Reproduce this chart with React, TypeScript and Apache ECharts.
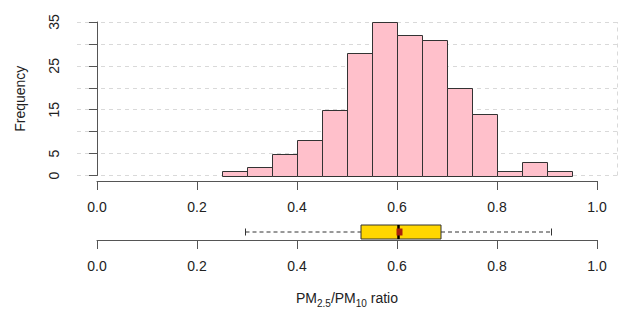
import React, { useEffect, useRef } from "react";
import * as echarts from "echarts";

// Histogram bins (PM2.5/PM10 ratio)
const binEdges = [0.25, 0.3, 0.35, 0.4, 0.45, 0.5, 0.55, 0.6, 0.65, 0.7, 0.75, 0.8, 0.85, 0.9, 0.95];
const counts = [1, 2, 5, 8, 15, 28, 35, 32, 31, 20, 14, 1, 3, 1];

// y axis ticks every 5, labels only on these
const yLabelValues = [0, 5, 15, 25, 35];

// Boxplot stats: lower whisker, Q1, median, Q3, upper whisker, mean
const boxStats = [0.297, 0.528, 0.603, 0.688, 0.909];
const meanValue = 0.605;

const FONT = "'Liberation Sans', Arial, Helvetica, sans-serif";
const AXIS_COLOR = "#555";
const TEXT_COLOR = "#222";

export default function App() {
  const ref = useRef<HTMLDivElement>(null);

  useEffect(() => {
    document.body.style.margin = "0";
    const chart = echarts.init(ref.current!, undefined, { renderer: "svg" });

    const histData = counts.map((c, i) => [binEdges[i], binEdges[i + 1], c]);

    const bottomAxis = (gridIndex: number, extra: any = {}) => ({
      type: "value",
      gridIndex,
      min: 0,
      max: 1,
      interval: 0.2,
      position: "bottom",
      axisLine: { show: true, lineStyle: { color: AXIS_COLOR, width: 1 } },
      axisTick: { show: true, length: 9, lineStyle: { color: AXIS_COLOR } },
      axisLabel: {
        show: true,
        margin: 19,
        fontSize: 14,
        color: TEXT_COLOR,
        fontFamily: FONT,
        formatter: (v: number) => v.toFixed(1),
      },
      splitLine: { show: false },
      ...extra,
    });

    const option: any = {
      animation: false,
      backgroundColor: "#fff",
      grid: [
        { left: 77, top: 22, width: 540, height: 153.5 },
        { left: 97, top: 180, width: 500, height: 1 },
        { left: 97, top: 224, width: 500, height: 16 },
      ],
      xAxis: [
        { type: "value", gridIndex: 0, min: -0.04, max: 1.04, show: false },
        bottomAxis(1),
        bottomAxis(2, {
          name: "{a|PM}{s|2.5}{a|/PM}{s|10}{a| ratio}",
          nameLocation: "middle",
          nameGap: 48,
          nameTextStyle: {
            fontFamily: FONT,
            color: TEXT_COLOR,
            rich: {
              a: { fontSize: 14, fontFamily: FONT, color: TEXT_COLOR, lineHeight: 20 },
              s: {
                fontSize: 10,
                fontFamily: FONT,
                color: TEXT_COLOR,
                lineHeight: 20,
                verticalAlign: "bottom",
              },
            },
          },
        }),
      ],
      yAxis: [
        {
          type: "value",
          gridIndex: 0,
          min: 0,
          max: 35,
          interval: 5,
          name: "Frequency",
          nameLocation: "middle",
          nameGap: 50,
          nameTextStyle: { fontSize: 14, fontFamily: FONT, color: TEXT_COLOR },
          axisLine: { show: true, lineStyle: { color: AXIS_COLOR, width: 1 } },
          axisTick: { show: true, length: 8, lineStyle: { color: AXIS_COLOR } },
          axisLabel: {
            rotate: 90,
            margin: 16,
            fontSize: 14,
            color: TEXT_COLOR,
            fontFamily: FONT,
            formatter: (v: number) => (yLabelValues.includes(v) ? String(v) : ""),
          },
          splitLine: {
            show: true,
            lineStyle: { color: "#D9D9D9", type: [4, 4], width: 1 },
          },
        },
        { type: "value", gridIndex: 1, min: 0, max: 1, show: false },
        { type: "value", gridIndex: 2, min: 0, max: 1, show: false },
      ],
      series: [
        {
          type: "custom",
          xAxisIndex: 0,
          yAxisIndex: 0,
          data: histData,
          encode: { x: [0, 1], y: 2 },
          renderItem: (params: any, api: any) => {
            const x0 = api.value(0);
            const x1 = api.value(1);
            const c = api.value(2);
            const p0 = api.coord([x0, c]);
            const p1 = api.coord([x1, 0]);
            return {
              type: "rect",
              shape: {
                x: Math.round(p0[0]) + 0.5,
                y: Math.round(p0[1]) + 0.5,
                width: Math.round(p1[0]) - Math.round(p0[0]),
                height: Math.round(p1[1]) - Math.round(p0[1]),
              },
              style: { fill: "#FFC0CB", stroke: "#333", lineWidth: 1 },
            };
          },
          markLine: {
            silent: true,
            symbol: ["none", "none"],
            label: { show: false },
            lineStyle: { color: "#D9D9D9", type: [4, 4], width: 1 },
            data: [{ xAxis: 1.04 }],
          },
          z: 2,
        },
        {
          type: "custom",
          xAxisIndex: 2,
          yAxisIndex: 2,
          data: [[...boxStats, meanValue]],
          encode: { x: [0, 1, 2, 3, 4, 5] },
          renderItem: (params: any, api: any) => {
            const lo = api.coord([api.value(0), 0.5]);
            const q1 = api.coord([api.value(1), 0.5]);
            const med = api.coord([api.value(2), 0.5]);
            const q3 = api.coord([api.value(3), 0.5]);
            const hi = api.coord([api.value(4), 0.5]);
            const mn = api.coord([api.value(5), 0.5]);
            const cy = lo[1];
            const hh = 7;
            const dashStyle = { stroke: "#333", lineWidth: 1, lineDash: [4, 3] };
            const solid = { stroke: "#333", lineWidth: 1 };
            return {
              type: "group",
              children: [
                { type: "line", shape: { x1: lo[0], y1: cy, x2: q1[0], y2: cy }, style: dashStyle },
                { type: "line", shape: { x1: q3[0], y1: cy, x2: hi[0], y2: cy }, style: dashStyle },
                { type: "line", shape: { x1: lo[0], y1: cy - 3.5, x2: lo[0], y2: cy + 3.5 }, style: solid },
                { type: "line", shape: { x1: hi[0], y1: cy - 3.5, x2: hi[0], y2: cy + 3.5 }, style: solid },
                {
                  type: "rect",
                  shape: { x: q1[0], y: cy - hh, width: q3[0] - q1[0], height: 2 * hh },
                  style: { fill: "#FFD700", stroke: "#333", lineWidth: 1 },
                },
                {
                  type: "line",
                  shape: { x1: med[0], y1: cy - hh, x2: med[0], y2: cy + hh },
                  style: { stroke: "#000", lineWidth: 2.5 },
                },
                {
                  type: "rect",
                  shape: { x: mn[0] - 3, y: cy - 3.5, width: 6, height: 7 },
                  style: { fill: "#A8200D" },
                },
              ],
            };
          },
        },
      ],
    };

    chart.setOption(option);
    return () => chart.dispose();
  }, []);

  return <div ref={ref} style={{ width: 632, height: 315 }} />;
}
